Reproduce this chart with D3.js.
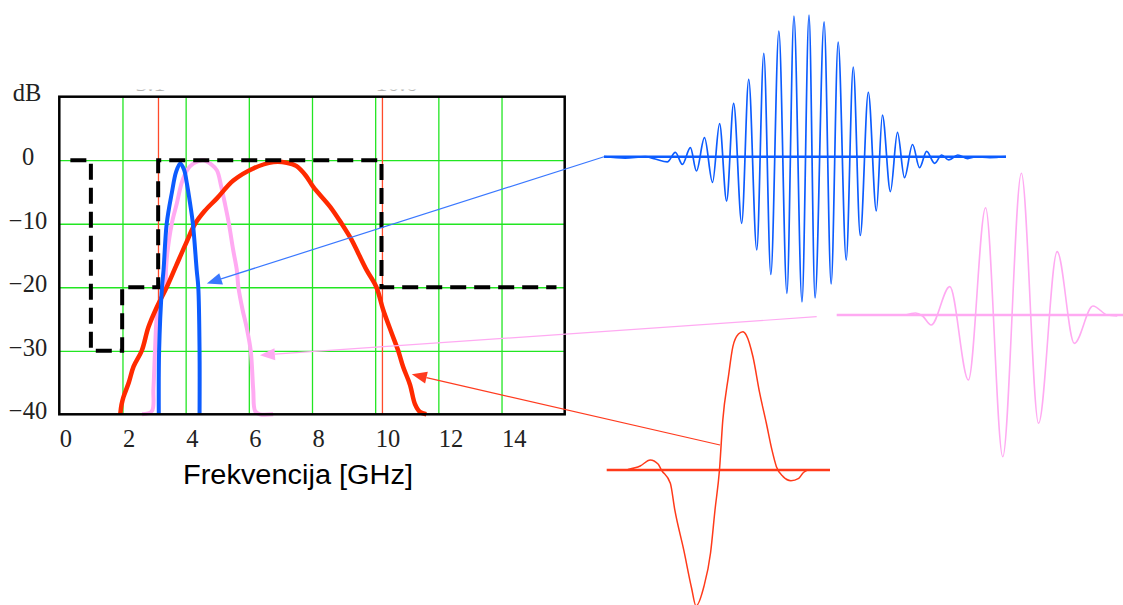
<!DOCTYPE html>
<html>
<head>
<meta charset="utf-8">
<script src="https://cdn.jsdelivr.net/npm/d3@7"></script>
<style>
  html, body { margin: 0; padding: 0; background: #fff; }
  svg { display: block; }
</style>
</head>
<body>
<svg id="chart" width="1123" height="605"></svg>
<script>
// ---------- Spectrum panel (frequency in GHz, level in dB) ----------
const xTickValues = [0, 2, 4, 6, 8, 10, 12, 14];
const yTickValues = [0, -10, -20, -30, -40];
const gridFreq = [2, 4, 6, 8, 10, 12, 14];
const gridDb = [0, -10, -20, -30];

// emission mask (step edges)
const maskFreq = [0.35, 1.0, 1.99, 3.13, 10.2, 15.74];
const maskDb   = [0, -30, -20, 0, -20, -20];

// band edges
const bandEdges = [3.14, 10.23];
const bandEdgeLabels = ["3.1", "10.6"];

// narrow pulse spectrum
const blueFreq = [3.15, 3.16, 3.25, 3.30, 3.40, 3.56, 3.70, 3.83, 3.95, 4.04, 4.14, 4.23, 4.35, 4.40, 4.44, 4.44];
const blueDb   = [-40, -30, -20, -17.3, -10, -5.2, -1.8, -0.5, -1.5, -3.7, -6.8, -10, -17.3, -20, -30, -40];

// medium pulse spectrum
const pinkFreq = [2.62, 2.93, 2.98, 3.03, 3.09, 3.20, 3.35, 3.38, 3.42, 3.56, 3.72, 3.88, 4.04, 4.25, 4.56, 4.80, 4.99, 5.12, 5.25, 5.37, 5.50, 5.62, 5.67, 5.80, 5.93, 6.06, 6.14, 6.20, 6.35, 6.77];
const pinkDb   = [-40, -39.5, -36, -30, -24.6, -22, -20, -17, -14.6, -10, -6.8, -3.5, -1.6, -0.5, 0, -0.6, -1.6, -4, -7, -10, -14, -17.3, -20, -23.5, -26.3, -30, -36.2, -39.5, -40, -40];

// wide-band pulse spectrum
const redFreq = [1.93, 1.97, 2.03, 2.20, 2.35, 2.61, 2.82, 3.09, 3.40, 3.70, 4.00, 4.30, 4.60, 4.99, 5.51, 6.14, 6.78, 7.20, 7.50, 7.80, 8.04, 8.57, 8.94, 9.25, 9.46, 9.73, 10.04, 10.25, 10.52, 10.73, 10.89, 11.10, 11.26, 11.41, 11.62];
const redDb   = [-40, -38.5, -37.3, -35, -32.5, -30, -26.3, -23.1, -20, -16.6, -13.2, -10, -8.0, -6.0, -3.2, -1.3, -0.3, -0.4, -0.9, -2.4, -4.2, -7.3, -10, -12.5, -14.6, -17.3, -20, -23.5, -27.2, -30, -32.6, -35.3, -38.4, -39.6, -40];

// ---------- Time-domain pulses (time in ns, normalized amplitude) ----------
const bluePulseT = [0, 0.21, 0.41, 0.51, 0.63, 0.71, 0.78, 0.86, 0.92, 1.00, 1.08, 1.15, 1.22, 1.29, 1.37, 1.44, 1.52, 1.59, 1.66, 1.74, 1.82, 1.89, 1.97, 2.04, 2.10, 2.19, 2.26, 2.33, 2.41, 2.48, 2.55, 2.63, 2.71, 2.77, 2.85, 2.92, 2.99, 3.07, 3.14, 3.21, 3.29, 3.36, 3.43, 3.52, 3.62, 3.69, 3.84, 4.0];
const bluePulseV = [0, -0.01, 0, -0.016, -0.037, 0.031, -0.054, 0.064, -0.101, 0.134, -0.181, 0.233, -0.313, 0.377, -0.470, 0.545, -0.658, 0.730, -0.831, 0.887, -0.964, 0.993, -1.025, 1.0, -0.997, 0.952, -0.898, 0.809, -0.729, 0.633, -0.556, 0.455, -0.383, 0.294, -0.246, 0.171, -0.148, 0.086, -0.078, 0.037, -0.047, 0.012, -0.023, 0.012, -0.013, -0.002, -0.006, 0];

const redPulseT = [0.19, 0.30, 0.39, 0.46, 0.49, 0.57, 0.61, 0.69, 0.76, 0.80, 0.87, 0.93, 0.97, 1.01, 1.04, 1.09, 1.13, 1.18, 1.22, 1.25, 1.31, 1.37, 1.43, 1.48, 1.52, 1.58, 1.65, 1.72, 1.76, 1.79];
const redPulseV = [0.004, 0.029, 0.072, 0.043, 0, -0.096, -0.289, -0.578, -0.853, -0.983, -0.844, -0.600, -0.289, 0, 0.362, 0.675, 0.892, 0.983, 1.0, 0.976, 0.819, 0.557, 0.338, 0.145, 0.024, -0.048, -0.077, -0.060, -0.020, -0.005];

const pinkPulseT = [0.48, 0.55, 0.60, 0.66, 0.79, 0.92, 1.04, 1.16, 1.29, 1.41, 1.54, 1.66, 1.79, 1.89, 1.96];
const pinkPulseV = [0, 0.014, -0.007, -0.071, 0.200, -0.459, 0.757, -1.0, 1.0, -0.764, 0.447, -0.200, 0.064, 0, -0.007];

// arrows: from a point on each pulse to a point on its spectrum
const arrowSpecFreq = [4.67, 6.35, 11.16];
const arrowSpecDb   = [-19.4, -30.7, -33.7];
const arrowPulseT   = [0, -0.14, 1.015];
const arrowPulseV   = [0, -0.012, 0.181];

// ---------- Styles ----------
const colBlue = "#0c5cff";
const colPink = "#ffaaf2";
const colRed  = "#ff2a00";
const colGrid = "#22e622";
const serif = "'Liberation Serif', 'Times New Roman', serif";
const sans  = "'Liberation Sans', Arial, sans-serif";

const svg = d3.select("#chart");
const plot = { left: 59.3, right: 564.7, top: 96.7, bottom: 414.3 };

const x = d3.scaleLinear().domain([0, 16]).range([plot.left, plot.right]);
const y = d3.scaleLinear().domain([-40, 10]).range([plot.bottom, plot.top]);

// ---------- Grid ----------
svg.append("g")
  .attr("transform", `translate(0,${plot.bottom})`)
  .call(d3.axisBottom(x).tickValues(gridFreq).tickSize(-(plot.bottom - plot.top)).tickFormat(""))
  .call(g => g.select(".domain").remove())
  .call(g => g.selectAll("line").attr("stroke", colGrid).attr("stroke-width", 1.3));

svg.append("g")
  .attr("transform", `translate(${plot.left},0)`)
  .call(d3.axisLeft(y).tickValues(gridDb).tickSize(-(plot.right - plot.left)).tickFormat(""))
  .call(g => g.select(".domain").remove())
  .call(g => g.selectAll("line").attr("stroke", colGrid).attr("stroke-width", 1.3));

// band edge markers
svg.append("g").selectAll("line").data(bandEdges).join("line")
  .attr("x1", d => x(d)).attr("x2", d => x(d))
  .attr("y1", plot.top).attr("y2", plot.bottom)
  .attr("stroke", "#ff4a2a").attr("stroke-width", 1.3);

// band edge labels, cut off by the panel top
svg.append("defs").append("clipPath").attr("id", "topClip")
  .append("rect").attr("x", 0).attr("y", 89.6).attr("width", 600).attr("height", 4);
svg.append("g").attr("clip-path", "url(#topClip)")
  .selectAll("text").data(bandEdges).join("text")
  .attr("x", (d, i) => x(d) + (i === 0 ? -8 : 14))
  .attr("y", 91)
  .attr("text-anchor", "middle")
  .attr("font-family", serif).attr("font-size", 24)
  .attr("fill", "#b4b4b4")
  .text((d, i) => bandEdgeLabels[i]);

// ---------- Spectra ----------
const specLine = d3.line()
  .x(d => x(d[0])).y(d => y(d[1]))
  .curve(d3.curveCatmullRom.alpha(0.5));

svg.append("path").datum(d3.zip(pinkFreq, pinkDb))
  .attr("d", specLine).attr("fill", "none")
  .attr("stroke", colPink).attr("stroke-width", 4).attr("stroke-linejoin", "round");

svg.append("path").datum(d3.zip(redFreq, redDb))
  .attr("d", specLine).attr("fill", "none")
  .attr("stroke", colRed).attr("stroke-width", 4.5).attr("stroke-linejoin", "round");

svg.append("path").datum(d3.zip(blueFreq, blueDb))
  .attr("d", specLine).attr("fill", "none")
  .attr("stroke", colBlue).attr("stroke-width", 4).attr("stroke-linejoin", "round");

// emission mask
svg.append("path").datum(d3.zip(maskFreq, maskDb))
  .attr("d", d3.line().x(d => x(d[0])).y(d => y(d[1])).curve(d3.curveStepAfter))
  .attr("fill", "none").attr("stroke", "#000").attr("stroke-width", 4)
  .attr("stroke-dasharray", "16,8");

// frame
svg.append("rect")
  .attr("x", plot.left).attr("y", plot.top)
  .attr("width", plot.right - plot.left).attr("height", plot.bottom - plot.top)
  .attr("fill", "none").attr("stroke", "#000").attr("stroke-width", 2.5);

// ---------- Axis labels ----------
svg.append("g")
  .attr("transform", "translate(0,446.5)")
  .call(d3.axisBottom(x).tickValues(xTickValues).tickSize(0).tickPadding(0).tickFormat(d3.format("d")))
  .call(g => g.select(".domain").remove())
  .call(g => g.selectAll("text")
    .attr("y", 0).attr("dy", 0)
    .attr("text-anchor", "start")
    .attr("font-family", serif).attr("font-size", 24.5).attr("fill", "#222"));

svg.append("g")
  .attr("transform", "translate(28,0)")
  .call(d3.axisLeft(y).tickValues(yTickValues).tickSize(0).tickPadding(0).tickFormat(d3.format("d")))
  .call(g => g.select(".domain").remove())
  .call(g => g.selectAll("text")
    .attr("x", 0).attr("dy", 4.5)
    .attr("text-anchor", "middle")
    .attr("font-family", serif).attr("font-size", 24.5).attr("fill", "#222"));

svg.append("text")
  .attr("x", 12.7).attr("y", 101)
  .attr("font-family", serif).attr("font-size", 24.5).attr("fill", "#222")
  .text("dB");

svg.append("text")
  .attr("x", 183).attr("y", 484)
  .attr("font-family", sans).attr("font-size", 27).attr("fill", "#000")
  .attr("textLength", 230).attr("lengthAdjust", "spacingAndGlyphs")
  .text("Frekvencija [GHz]");

// ---------- Pulses ----------
const pulses = [
  { t: bluePulseT, v: bluePulseV, color: colBlue, tDom: [0, 4], tRange: [604, 1006], mid: 156.7, amp: 141.7, width: 1.7, base: 2.4 },
  { t: pinkPulseT, v: pinkPulseV, color: colPink, tDom: [0, 2], tRange: [836.7, 1123], mid: 315, amp: 141.7, width: 1.6, base: 2.4 },
  { t: redPulseT,  v: redPulseV,  color: "#ff3a1a", tDom: [0, 2], tRange: [606.7, 830], mid: 470, amp: 138.3, width: 1.5, base: 2.6 }
];
pulses.forEach(p => {
  p.ts = d3.scaleLinear().domain(p.tDom).range(p.tRange);
  p.vs = d3.scaleLinear().domain([-1, 1]).range([p.mid + p.amp, p.mid - p.amp]);
});

pulses.forEach(p => {
  const g = svg.append("g");
  g.append("line")
    .attr("x1", p.ts(p.tDom[0])).attr("x2", p.ts(p.tDom[1]))
    .attr("y1", p.vs(0)).attr("y2", p.vs(0))
    .attr("stroke", p.color).attr("stroke-width", p.base);
  g.append("path").datum(d3.zip(p.t, p.v))
    .attr("d", d3.line().x(d => p.ts(d[0])).y(d => p.vs(d[1])).curve(d3.curveMonotoneX))
    .attr("fill", "none").attr("stroke", p.color).attr("stroke-width", p.width);
});

// ---------- Arrows ----------
const arrowColors = ["#3a78ff", "#ffaaf2", "#ff3b1f"];
arrowSpecFreq.forEach((f, i) => {
  const p = pulses[i];
  const tail = [p.ts(arrowPulseT[i]), p.vs(arrowPulseV[i])];
  const tip = [x(f), y(arrowSpecDb[i])];
  const dx = tip[0] - tail[0], dy = tip[1] - tail[1];
  const L = Math.hypot(dx, dy), ux = dx / L, uy = dy / L;
  const headLen = 15, halfW = 6;
  const base = [tip[0] - ux * headLen, tip[1] - uy * headLen];
  svg.append("line")
    .attr("x1", tail[0]).attr("y1", tail[1])
    .attr("x2", base[0]).attr("y2", base[1])
    .attr("stroke", arrowColors[i]).attr("stroke-width", 1.2);
  svg.append("path")
    .attr("d", d3.line()([tip, [base[0] - uy * halfW, base[1] + ux * halfW], [base[0] + uy * halfW, base[1] - ux * halfW]]) + "Z")
    .attr("fill", arrowColors[i]);
});
</script>
</body>
</html>
